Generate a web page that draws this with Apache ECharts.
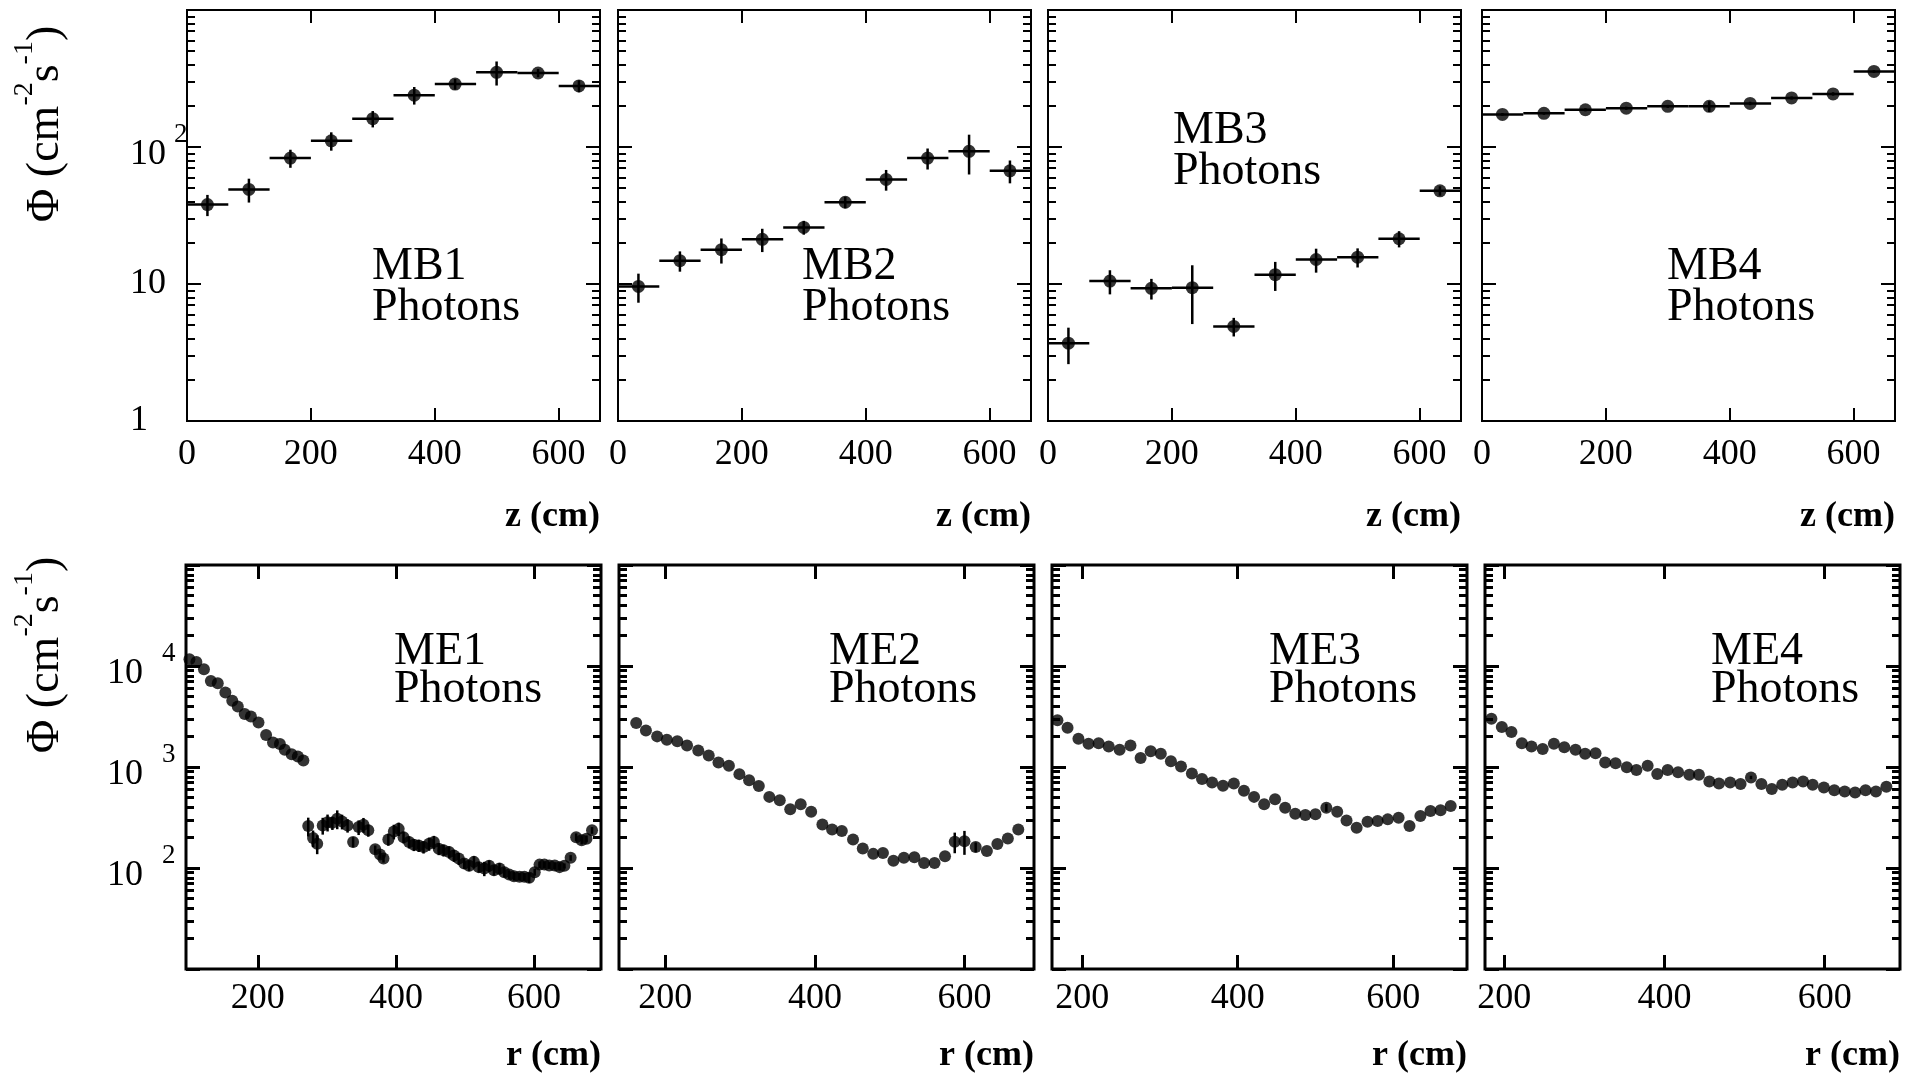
<!DOCTYPE html>
<html>
<head>
<meta charset="utf-8">
<title>Photon flux in the muon stations</title>
<script src="https://cdn.jsdelivr.net/npm/echarts@6.0.0/dist/echarts.min.js"></script>
<style>
    html, body { margin: 0; padding: 0; background: #fff; }
    #chart { width: 1912px; height: 1077px; }
</style>
</head>
<body>
<div id="chart"></div>
<script>
// ====================== data ======================
// barrel stations: 10 bins in z, flux in cm^-2 s^-1
var mbEdges = [0, 66.7, 133.4, 200.1, 266.8, 333.5, 400.2, 466.9, 533.6, 600.3, 667];
var mbZ = [33, 100, 167, 233, 300, 367, 433, 500, 567, 633];

var mb1Flux = [38, 49, 83, 111, 161, 239, 288, 351, 347, 279];
var mb1Err = [6.7, 9.7, 12.5, 17, 22, 35, 26, 70, 24, 28];

var mb2Flux = [9.6, 14.8, 17.8, 21.2, 25.9, 39.5, 58, 83, 93, 67];
var mb2Err = [2.3, 2.5, 3.7, 4.1, 3.0, 3.8, 10, 14.5, 30, 12.7];

var mb3Flux = [3.7, 10.5, 9.3, 9.4, 4.9, 11.7, 15.1, 15.7, 21.4, 47.9];
var mb3Err = [1.1, 2.1, 1.6, 4.3, 0.76, 2.8, 3.0, 2.5, 2.9, 3.8];

var mb4Flux = [173, 176, 187, 192, 198, 198, 208, 228, 244, 356];
var mb4Err = [4, 4, 5, 5, 5, 18, 6, 6, 7, 8];

// endcap stations: flux versus r
var me1R = [101, 111, 122, 132, 142, 153, 163, 171, 181, 190, 201, 212, 222, 232, 239, 249, 258, 266,
    273, 280, 286, 294, 301, 308, 315, 322, 330, 338, 346, 353, 360, 370, 377, 382, 389, 397, 404, 411,
    419, 426, 433, 440, 448, 455, 462, 469, 477, 484, 491, 499, 506, 513, 520, 528, 535, 542, 550, 557,
    564, 571, 579, 586, 593, 601, 608, 615, 622, 630, 637, 644, 653, 661, 669, 676, 684];
var me1Flux = [11640, 10950, 9270, 7110, 6750, 5460, 4520, 3970, 3340, 3160, 2760, 2070, 1750, 1690, 1480, 1340, 1270, 1160,
    260, 198, 174, 264, 284, 280, 307, 289, 264, 181, 254, 268, 236, 153, 136, 124, 192, 230, 244, 202,
    181, 170, 167, 161, 174, 181, 155, 150, 144, 133, 124, 111, 105, 115, 102, 99, 105, 95, 99, 91,
    86, 83, 82, 82, 80, 91, 108, 108, 106, 106, 102, 105, 126, 202, 188, 195, 236];
var me1Err = [0, 0, 0, 0, 0, 0, 0, 0, 0, 0, 0, 0, 0, 0, 0, 0, 0, 0,
    55, 37, 37, 50, 54, 42, 65, 48, 40, 21, 42, 45, 32, 14, 12, 11, 26, 38, 37, 27,
    25, 23, 23, 22, 26, 27, 21, 20, 20, 18, 17, 13, 12, 16, 12, 16, 14, 11, 13, 10,
    8, 8, 7, 7, 9, 7, 8, 8, 8, 8, 8, 6, 8, 18, 17, 15, 18];

var me2R = [161, 174, 189, 202, 216, 229, 244, 258, 271, 285, 299, 312, 325, 339, 353, 367, 381, 395, 410,
    423, 436, 451, 464, 478, 491, 505, 519, 533, 546, 560, 574, 587, 600, 615, 630, 644, 658, 672];
var me2Flux = [2720, 2300, 2010, 1860, 1800, 1630, 1460, 1300, 1110, 1030, 850, 740, 650, 506, 469, 381, 428, 361, 270,
    241, 232, 191, 156, 138, 141, 118, 126, 128, 112, 112, 131, 182, 184, 161, 147, 173, 196, 241];
var me2Err = [0, 0, 0, 0, 0, 0, 0, 0, 0, 0, 0, 0, 0, 0, 0, 0, 0, 0, 0,
    0, 0, 0, 0, 0, 0, 0, 0, 0, 0, 0, 0, 42, 49, 18, 0, 0, 0, 0];

var me3R = [168, 181, 195, 208, 221, 234, 248, 262, 275, 288, 301, 314, 327, 341, 354, 367, 381, 395, 408, 421,
    434, 448, 461, 474, 487, 500, 514, 528, 540, 553, 567, 580, 593, 607, 621, 635, 648, 661, 674];
var me3Flux = [2900, 2450, 1900, 1700, 1720, 1600, 1480, 1630, 1230, 1430, 1350, 1140, 1010, 864, 759, 703, 651, 687, 581, 506,
    428, 480, 396, 345, 335, 340, 396, 361, 296, 251, 287, 292, 303, 315, 260, 327, 367, 373, 412];
var me3Err = [0, 0, 0, 0, 0, 0, 0, 0, 0, 0, 0, 0, 0, 0, 0, 0, 0, 0, 0, 0,
    0, 0, 0, 0, 0, 0, 36, 0, 0, 0, 0, 0, 0, 0, 0, 0, 0, 0, 0];

var me4R = [184, 197, 209, 222, 234, 248, 262, 275, 289, 301, 314, 326, 339, 353, 365, 379, 391, 404, 417, 431,
    443, 456, 468, 482, 495, 508, 521, 534, 547, 560, 573, 585, 599, 612, 625, 638, 651, 664, 677];
var me4Flux = [3010, 2490, 2220, 1720, 1600, 1510, 1700, 1570, 1480, 1350, 1370, 1110, 1090, 993, 934, 1030, 851, 934, 885, 839,
    839, 719, 687, 703, 677, 789, 677, 604, 667, 703, 719, 667, 627, 590, 572, 560, 590, 572, 637];
var me4Err = [0, 0, 0, 0, 0, 0, 0, 0, 0, 0, 0, 0, 0, 0, 0, 0, 0, 0, 0, 0,
    0, 0, 0, 0, 0, 30, 0, 0, 0, 0, 0, 0, 0, 0, 0, 0, 0, 0, 0];

// tick values
var mbXTicks = [0, 200, 400, 600];
var meXTicks = [200, 400, 600];
var mbYMajor = [1, 10, 100, 1000];
var mbYLabels = [1, 10, 100];
var mbYMinor = [2, 3, 4, 5, 6, 7, 8, 9, 20, 30, 40, 50, 60, 70, 80, 90, 200, 300, 400, 500, 600, 700, 800, 900];
var meYMajor = [10, 100, 1000, 10000, 100000];
var meYLabels = [100, 1000, 10000];
var meYMinor = [20, 30, 40, 50, 60, 70, 80, 90, 200, 300, 400, 500, 600, 700, 800, 900,
    2000, 3000, 4000, 5000, 6000, 7000, 8000, 9000, 20000, 30000, 40000, 50000, 60000, 70000, 80000, 90000];

// ====================== layout ======================
var FONT = '"Liberation Serif", "Times New Roman", serif';
var rows = {
    mb: {
        top: 10, height: 411, width: 413, lefts: [187, 618, 1048, 1482],
        frame: 2, tickW: 2, majLen: 14, minLen: 8, xLen: 13,
        ymin: 1, ymax: 1000, yMajor: mbYMajor, yMinor: mbYMinor, yLabels: mbYLabels,
        xTicks: mbXTicks, xLabelMargin: 16, yLabelMargin: 57, supGap: 8,
        dot: 13, errW: 2.5, xName: 'z (cm)', nameY: 517
    },
    me: {
        top: 565, height: 404, width: 415, lefts: [186, 619, 1052, 1485],
        frame: 3, tickW: 3, majLen: 14, minLen: 8, xLen: 14,
        ymin: 10, ymax: 100000, yMajor: meYMajor, yMinor: meYMinor, yLabels: meYLabels,
        xTicks: meXTicks, xLabelMargin: 12, yLabelMargin: 79, supGap: 19,
        dot: 12, errW: 2.5, xName: 'r (cm)', nameY: 1056
    }
};

var panels = [
    {row: 'mb', col: 0, label: 'MB1\nPhotons', x: mbZ, y: mb1Flux, err: mb1Err, xmin: 0, xmax: 667, bins: true, tx: 372, ty: 246},
    {row: 'mb', col: 1, label: 'MB2\nPhotons', x: mbZ, y: mb2Flux, err: mb2Err, xmin: 0, xmax: 667, bins: true, tx: 802, ty: 246},
    {row: 'mb', col: 2, label: 'MB3\nPhotons', x: mbZ, y: mb3Flux, err: mb3Err, xmin: 0, xmax: 667, bins: true, tx: 1173, ty: 110},
    {row: 'mb', col: 3, label: 'MB4\nPhotons', x: mbZ, y: mb4Flux, err: mb4Err, xmin: 0, xmax: 667, bins: true, tx: 1667, ty: 246},
    {row: 'me', col: 0, label: 'ME1\nPhotons', x: me1R, y: me1Flux, err: me1Err, xmin: 96, xmax: 697, bins: false, tx: 394, ty: 633},
    {row: 'me', col: 1, label: 'ME2\nPhotons', x: me2R, y: me2Flux, err: me2Err, xmin: 138, xmax: 693, bins: false, tx: 829, ty: 633},
    {row: 'me', col: 2, label: 'ME3\nPhotons', x: me3R, y: me3Flux, err: me3Err, xmin: 161, xmax: 695, bins: false, tx: 1269, ty: 633},
    {row: 'me', col: 3, label: 'ME4\nPhotons', x: me4R, y: me4Flux, err: me4Err, xmin: 176, xmax: 694, bins: false, tx: 1711, ty: 633}
];

// error bars: horizontal (bin width) + vertical (flux error)
function errRender(lw) {
    return function (params, api) {
        var st = {stroke: '#000', lineWidth: lw};
        var kids = [];
        var y = api.value(1);
        if (api.value(3) > api.value(2)) {
            var a = api.coord([api.value(2), y]);
            var b = api.coord([api.value(3), y]);
            kids.push({type: 'line', shape: {x1: a[0], y1: a[1], x2: b[0], y2: b[1]}, style: st});
        }
        if (api.value(5) > api.value(4)) {
            var c = api.coord([api.value(0), api.value(4)]);
            var d = api.coord([api.value(0), api.value(5)]);
            kids.push({type: 'line', shape: {x1: c[0], y1: c[1], x2: d[0], y2: d[1]}, style: st});
        }
        return {type: 'group', children: kids};
    };
}

function yFormatter(v) {
    var e = Math.round(Math.log10(v));
    if (e < 2) return '{n|' + Math.round(Math.pow(10, e)) + '}';
    return '{m|10}{s|' + e + '}';
}

var grids = [], xAxes = [], yAxes = [], series = [], graphics = [];

panels.forEach(function (p, i) {
    var row = rows[p.row];
    var left = row.lefts[p.col];
    var tickStyle = {color: '#000', width: row.tickW};

    grids.push({
        left: left, top: row.top, width: row.width, height: row.height,
        show: true, borderColor: '#000', borderWidth: row.frame, backgroundColor: 'transparent'
    });

    var xb = xAxes.length;
    ['bottom', 'top'].forEach(function (pos) {
        xAxes.push({
            type: 'value', gridIndex: i, position: pos, min: p.xmin, max: p.xmax,
            splitLine: {show: false},
            axisLine: {show: false, onZero: false},
            axisTick: {show: true, inside: true, length: row.xLen, customValues: row.xTicks, lineStyle: tickStyle},
            axisLabel: pos === 'bottom' ? {
                show: true, customValues: row.xTicks, margin: row.xLabelMargin,
                color: '#000', fontFamily: FONT, fontSize: 36
            } : {show: false}
        });
    });

    var yb = yAxes.length;
    ['left', 'right'].forEach(function (pos) {
        [row.yMajor, row.yMinor].forEach(function (vals, k) {
            var showLab = pos === 'left' && k === 0 && p.col === 0;
            yAxes.push({
                type: 'log', logBase: 10, gridIndex: i, position: pos, min: row.ymin, max: row.ymax,
                splitLine: {show: false},
                axisLine: {show: false, onZero: false},
                axisTick: {show: true, inside: true, length: k === 0 ? row.majLen : row.minLen, customValues: vals, lineStyle: tickStyle},
                axisLabel: showLab ? {
                    show: true, customValues: row.yLabels, margin: row.yLabelMargin, align: 'left',
                    formatter: yFormatter,
                    rich: {
                        n: {fontFamily: FONT, fontSize: 36, color: '#000', lineHeight: 40},
                        m: {fontFamily: FONT, fontSize: 36, color: '#000', lineHeight: 52, verticalAlign: 'bottom'},
                        s: {fontFamily: FONT, fontSize: 27, color: '#000', verticalAlign: 'top', padding: [0, 0, 0, row.supGap]}
                    }
                } : {show: false}
            });
        });
    });

    var pts = [], bars = [];
    p.x.forEach(function (xv, k) {
        pts.push([xv, p.y[k]]);
        var lo = p.bins ? mbEdges[k] : xv;
        var hi = p.bins ? mbEdges[k + 1] : xv;
        bars.push([xv, p.y[k], lo, hi, p.y[k] - p.err[k], p.y[k] + p.err[k]]);
    });

    series.push({
        type: 'custom', xAxisIndex: xb, yAxisIndex: yb, data: bars,
        renderItem: errRender(row.errW), silent: true, z: 2
    });
    series.push({
        type: 'scatter', xAxisIndex: xb, yAxisIndex: yb, data: pts,
        symbol: 'circle', symbolSize: row.dot, itemStyle: {color: '#000'},
        silent: true, clip: false, z: 3
    });

    // station label
    graphics.push({
        type: 'text', x: p.tx, y: p.ty, silent: true,
        style: {text: p.label, fontFamily: FONT, fontSize: 46, lineHeight: p.row === 'mb' ? 41 : 38, fill: '#000', align: 'left', verticalAlign: 'top'}
    });
    // axis title
    graphics.push({
        type: 'text', x: left + row.width, y: row.nameY, silent: true,
        style: {text: row.xName, fontFamily: FONT, fontSize: 36, fontWeight: 'bold', fill: '#000', align: 'right', verticalAlign: 'middle'}
    });
});

// y axis titles, rotated
[124, 655].forEach(function (cy) {
    graphics.push({
        type: 'text', x: 40, y: cy, rotation: Math.PI / 2, silent: true,
        style: {
            text: '{a|\u03a6 (cm}{s|-2}{a|s}{s|-1}{a|)}',
            align: 'center', verticalAlign: 'middle',
            rich: {
                a: {fontFamily: FONT, fontSize: 46, fill: '#000', lineHeight: 58, verticalAlign: 'bottom'},
                s: {fontFamily: FONT, fontSize: 28, fill: '#000', verticalAlign: 'top'}
            }
        }
    });
});

var chart = echarts.init(document.getElementById('chart'));
chart.setOption({
    animation: false,
    backgroundColor: '#fff',
    grid: grids,
    xAxis: xAxes,
    yAxis: yAxes,
    series: series,
    graphic: graphics
});
</script>
</body>
</html>
